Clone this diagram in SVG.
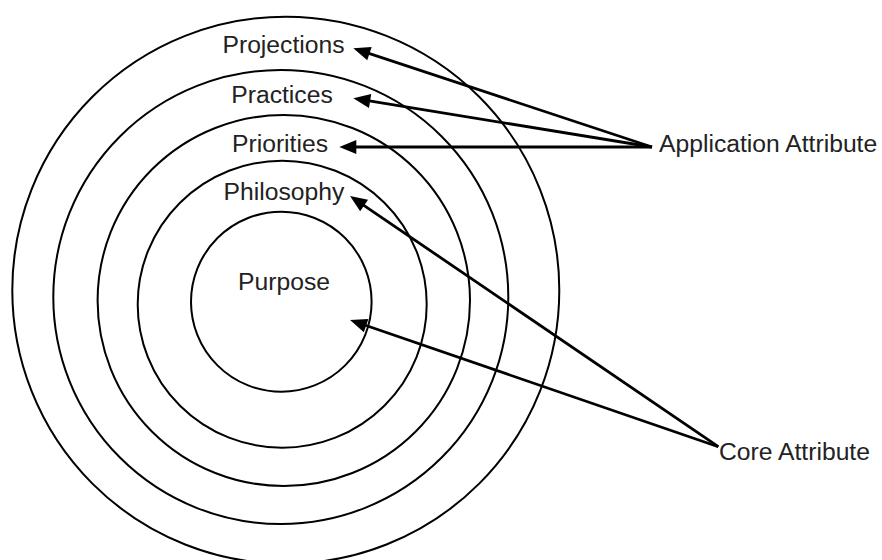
<svg xmlns="http://www.w3.org/2000/svg" width="882" height="560" viewBox="0 0 882 560">
<style>
.ring{fill:none;stroke:#000;stroke-width:2}
.lbl{font-family:"Liberation Sans",Arial,sans-serif;font-size:24.7px;fill:#222}
.arr{stroke:#000;stroke-width:2.8;fill:none;marker-end:url(#ah)}
</style>
<defs>
<marker id="ah" markerUnits="userSpaceOnUse" markerWidth="20" markerHeight="16" viewBox="0 -8 18 16" refX="7" refY="0" orient="auto">
<path d="M0,-7 L17,0 L0,7 z" fill="#000"/>
</marker>
</defs>
<rect width="882" height="560" fill="#fff"/>
<g id="ring-projections">
<ellipse class="ring" cx="285.8" cy="290.2" rx="273.5" ry="273.5"/>
<text class="lbl" x="283.5" y="52.7" text-anchor="middle">Projections</text>
</g>
<g id="ring-practices">
<ellipse class="ring" cx="280.8" cy="297" rx="227.5" ry="227"/>
<text class="lbl" x="282" y="103.3" text-anchor="middle">Practices</text>
</g>
<g id="ring-priorities">
<ellipse class="ring" cx="283.8" cy="300.5" rx="186.2" ry="185.5"/>
<text class="lbl" x="280" y="152.3" text-anchor="middle">Priorities</text>
</g>
<g id="ring-philosophy">
<ellipse class="ring" cx="282.2" cy="304.2" rx="144.5" ry="143.5"/>
<text class="lbl" x="284" y="200" text-anchor="middle">Philosophy</text>
</g>
<g id="ring-purpose">
<ellipse class="ring" cx="281.3" cy="301.7" rx="90.3" ry="90"/>
<text class="lbl" x="284" y="290" text-anchor="middle">Purpose</text>
</g>
<g id="application-attribute">
<text class="lbl" x="659" y="152">Application Attribute</text>
</g>
<g id="core-attribute">
<text class="lbl" x="719" y="460">Core Attribute</text>
</g>
<g id="connectors">
<line class="arr" x1="652" y1="147" x2="362.8" y2="51.4"/>
<line class="arr" x1="652" y1="147" x2="363.2" y2="99.9"/>
<line class="arr" x1="652" y1="147" x2="349.3" y2="147"/>
<line class="arr" x1="718.3" y1="446.7" x2="358.3" y2="201.6"/>
<line class="arr" x1="718.3" y1="446.7" x2="359.5" y2="323.3"/>
</g>
</svg>
